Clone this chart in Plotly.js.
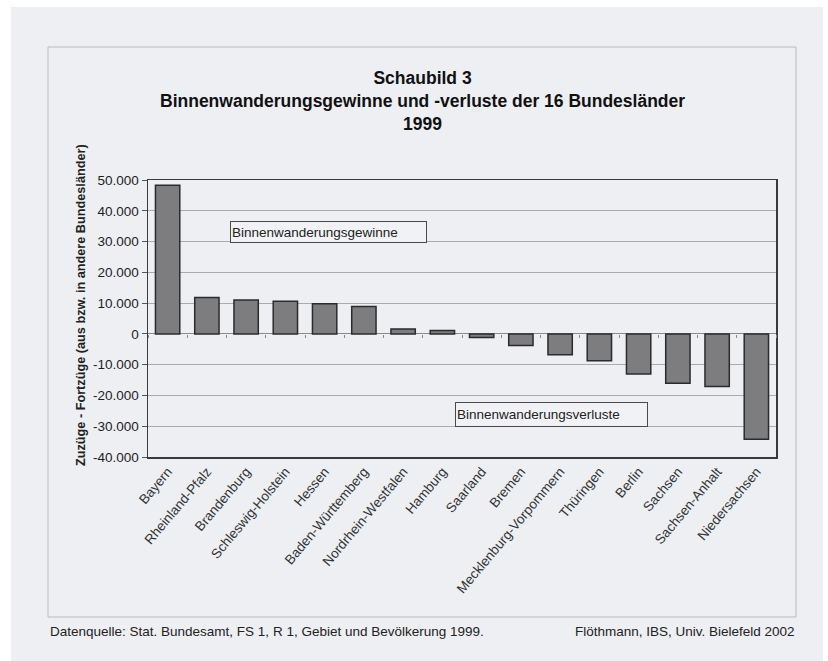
<!DOCTYPE html>
<html>
<head>
<meta charset="utf-8">
<script src="https://cdn.plot.ly/plotly-3.0.1.min.js"></script>
<style>
html,body{margin:0;padding:0;background:#ffffff;width:828px;height:661px;overflow:hidden;}
#chart{position:absolute;left:11px;top:7px;width:812px;height:654px;}
</style>
</head>
<body>
<div id="chart"></div>
<script>
var laender = ["Bayern","Rheinland-Pfalz","Brandenburg","Schleswig-Holstein","Hessen","Baden-Württemberg","Nordrhein-Westfalen","Hamburg","Saarland","Bremen","Mecklenburg-Vorpommern","Thüringen","Berlin","Sachsen","Sachsen-Anhalt","Niedersachsen"];
var saldo = [48300, 11800, 11000, 10600, 9800, 8900, 1600, 1100, -1200, -3800, -6800, -8700, -13000, -16000, -17100, -34200];
var yTickVals = [50000, 40000, 30000, 20000, 10000, 0, -10000, -20000, -30000, -40000];
var yTickText = ["50.000","40.000","30.000","20.000","10.000","0","-10.000","-20.000","-30.000","-40.000"];

var W = 812, H = 654, L = 137, R = 47, T = 173, B = 204;
var PW = W - L - R, PH = H - T - B;
function px(x){ return (x - L) / PW; }
function py(y){ return 1 - (y - T) / PH; }

var bg = '#edeff3';
var font = 'Liberation Sans, Arial, sans-serif';

var traces = [
  {
    type: 'bar', x: laender, y: saldo,
    marker: {color: '#7d7d7f', line: {color: '#2b2b2b', width: 1.5}},
    hoverinfo: 'x+y'
  },
  {
    type: 'scatter', mode: 'markers', x: laender, y: saldo.map(function(){return 0;}),
    xaxis: 'x2', marker: {opacity: 0}, hoverinfo: 'skip', showlegend: false
  }
];

var layout = {
  width: W, height: H,
  margin: {l: L, r: R, t: T, b: B, pad: 0},
  paper_bgcolor: bg, plot_bgcolor: bg,
  showlegend: false,
  bargap: 0.38,
  font: {family: font, color: '#222'},
  xaxis: {
    type: 'category', range: [-0.5, 15.5],
    showline: true, linecolor: '#3a3a3a', linewidth: 1.5, mirror: true,
    ticks: '', tickangle: -50, tickfont: {size: 13.5, color: '#333'},
    showgrid: false, zeroline: false
  },
  xaxis2: {
    type: 'category', overlaying: 'x', anchor: 'free', position: 40000/90000,
    range: [-0.5, 15.5], tickson: 'boundaries', ticks: 'outside', ticklen: 3,
    tickcolor: '#888', tickwidth: 1, showticklabels: false, showline: false, showgrid: false, zeroline: false
  },
  yaxis: {
    range: [-40000, 50000], tickvals: yTickVals, ticktext: yTickText,
    showline: true, linecolor: '#3a3a3a', linewidth: 1.5, mirror: true,
    ticks: 'outside', ticklen: 5, tickcolor: '#555', tickwidth: 1,
    tickfont: {size: 13.5, color: '#1e1e1e'},
    showgrid: true, gridcolor: '#a9abae', gridwidth: 1,
    zeroline: true, zerolinecolor: '#8a8a8a', zerolinewidth: 1
  },
  shapes: [
    {type: 'rect', xref: 'paper', yref: 'paper', x0: px(37), x1: px(785), y0: py(40), y1: py(610),
     line: {color: '#b9bbbe', width: 1}, layer: 'below'}
  ],
  annotations: [
    {text: '<b>Schaubild 3<br>Binnenwanderungsgewinne und -verluste der 16 Bundesländer<br>1999</b>', xref: 'paper', yref: 'paper', x: px(411), y: py(94), xanchor: 'center', yanchor: 'middle', align: 'center', showarrow: false, font: {size: 17.5, color: '#111'}},
    {text: '<b>Zuzüge - Fortzüge (aus bzw. in andere Bundesländer)</b>', xref: 'paper', yref: 'paper', x: px(70), y: py(298), xanchor: 'center', yanchor: 'middle', textangle: -90, showarrow: false, font: {size: 12.7, color: '#222'}},
    {text: 'Binnenwanderungsgewinne', xref: 'paper', yref: 'paper', x: px(219), y: py(214), xanchor: 'left', yanchor: 'top', width: 193, height: 18, align: 'left', valign: 'middle', showarrow: false, bordercolor: '#4a4a4a', borderwidth: 1, borderpad: 1, bgcolor: '#f1f2f5', font: {size: 13.5, color: '#222'}},
    {text: 'Binnenwanderungsverluste', xref: 'paper', yref: 'paper', x: px(444), y: py(395), xanchor: 'left', yanchor: 'top', width: 189, height: 21, align: 'left', valign: 'middle', showarrow: false, bordercolor: '#4a4a4a', borderwidth: 1, borderpad: 1, bgcolor: '#f1f2f5', font: {size: 13.5, color: '#222'}},
    {text: 'Datenquelle: Stat. Bundesamt, FS 1, R 1, Gebiet und Bevölkerung 1999.', xref: 'paper', yref: 'paper', x: px(37), y: py(624), xanchor: 'left', yanchor: 'middle', showarrow: false, font: {size: 13.5, color: '#222'}},
    {text: 'Flöthmann, IBS, Univ. Bielefeld 2002', xref: 'paper', yref: 'paper', x: px(786), y: py(624), xanchor: 'right', yanchor: 'middle', showarrow: false, font: {size: 13.5, color: '#222'}}
  ]
};

Plotly.newPlot('chart', traces, layout, {displayModeBar: false, staticPlot: true});
</script>
</body>
</html>
